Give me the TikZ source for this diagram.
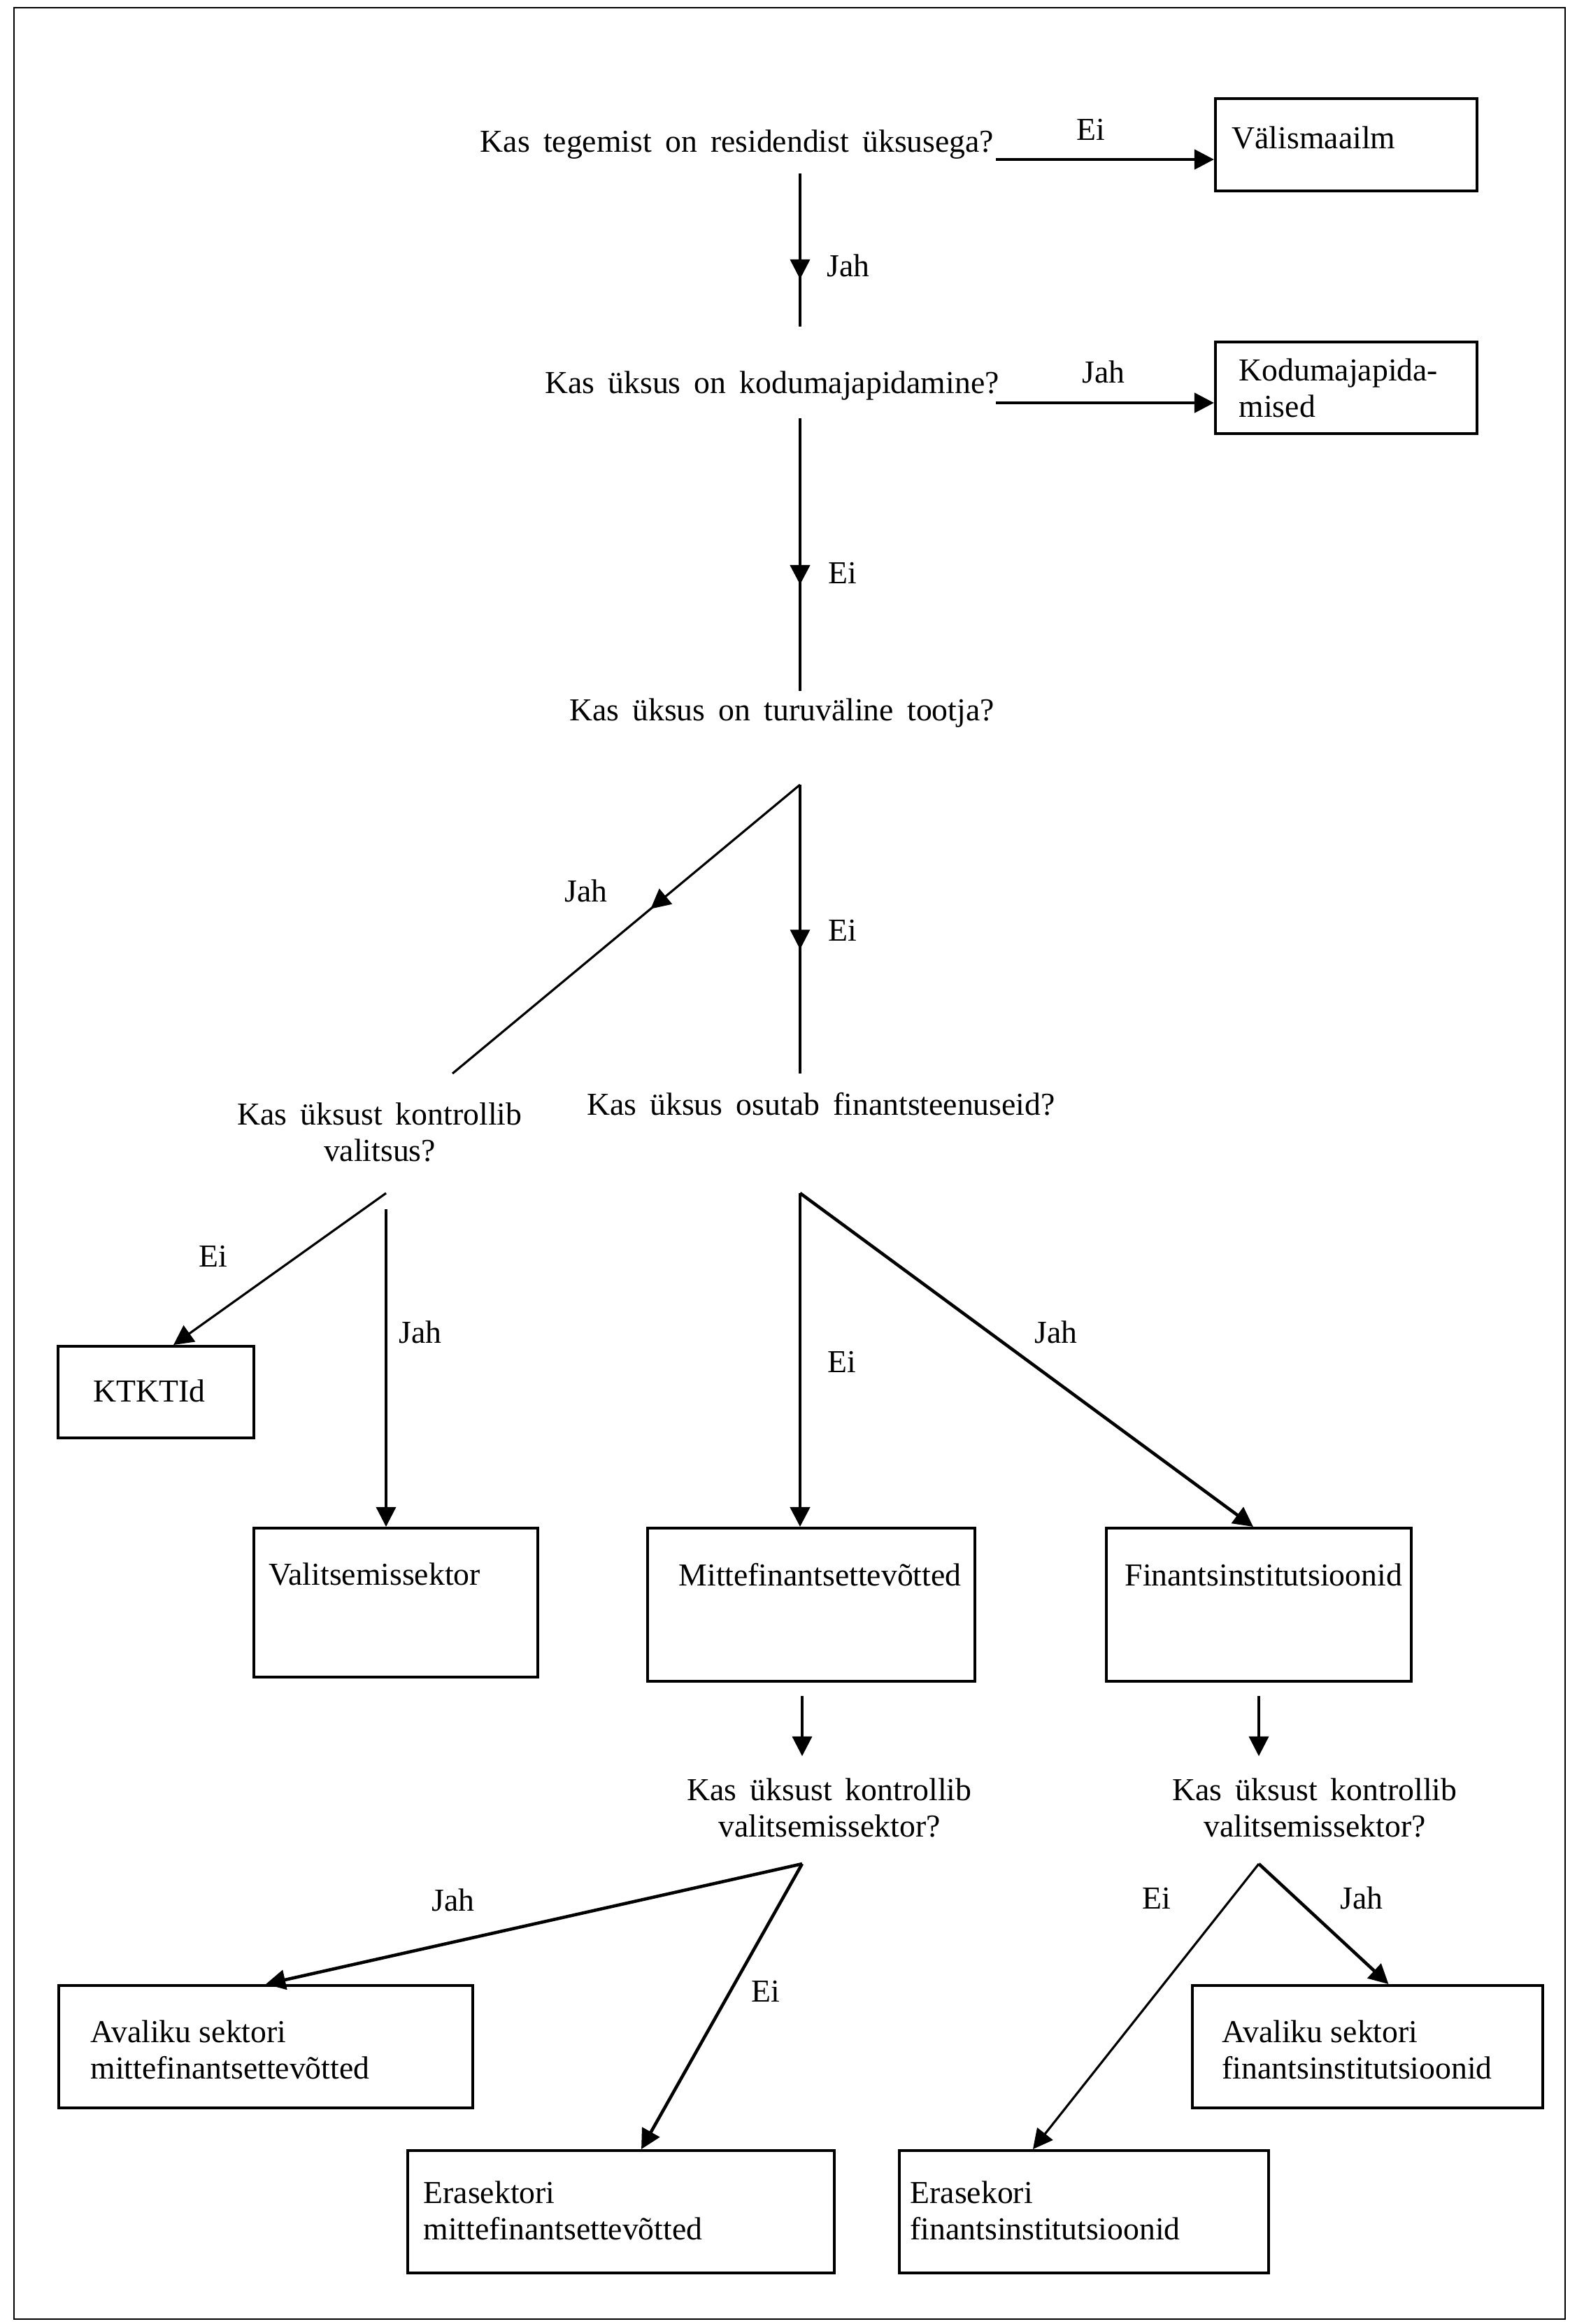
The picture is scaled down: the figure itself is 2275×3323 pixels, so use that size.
\documentclass[tikz,border=0pt]{standalone}
\usepackage{fontspec}
\setmainfont{Liberation Serif}
\usetikzlibrary{arrows.meta,positioning,calc,decorations.markings}
\newcommand\diagfont{\fontsize{13}{14.8}\selectfont}
\newcommand\askfont{\diagfont\spaceskip=0.42em plus 0.1em minus 0.05em\relax}
\tikzset{
  frame/.style={draw, line width=0.8pt},
  box/.style 2 args={draw, line width=1.1pt, minimum width=#1, minimum height=#2, inner sep=0pt},
  boxtext/.style={align=left, inner sep=0pt, font=\diagfont},
  ask/.style={align=center, inner sep=0pt, font=\askfont},
  answer/.style={anchor=base west, inner sep=0pt, font=\diagfont},
  link/.style={line width=0.9pt},
  boldlink/.style={line width=1.3pt},
  tip/.style={-{Triangle[length=8pt, width=8pt]}},
  midtip/.style={postaction={decorate}, decoration={markings,
    mark=at position #1 with {\arrow{Triangle[length=8pt, width=8pt]}}}}
}
\begin{document}
\begin{tikzpicture}[x=0.01cm, y=-0.01cm]
  \useasboundingbox (0,0) rectangle (2275,3323);
  \draw[frame] (20,11) rectangle (2238,3316);

  \node[ask, anchor=base] (q1) at (1054,217) {Kas tegemist on residendist üksusega?};
  \node[ask, anchor=base] (q2) at (1104,562) {Kas üksus on kodumajapidamine?};
  \node[ask, anchor=base] (q3) at (1118,1030) {Kas üksus on turuväline tootja?};
  \node[ask, anchor=north] (q4) at (543,1576) {Kas üksust kontrollib\\valitsus?};
  \node[ask, anchor=base] (q5) at (1174,1594) {Kas üksus osutab finantsteenuseid?};
  \node[ask, anchor=north] (q6) at (1186,2542) {Kas üksust kontrollib\\valitsemissektor?};
  \node[ask, anchor=north] (q7) at (1880,2542) {Kas üksust kontrollib\\valitsemissektor?};

  \node[box={3.74cm}{1.32cm}] (valis) at (1925,207) {};
  \node[box={3.74cm}{1.31cm}] (kodu) at (1925,554.5) {};
  \node[box={2.80cm}{1.31cm}] (ktkt) at (223,1990.5) {};
  \node[box={4.06cm}{2.13cm}] (valits) at (566,2291.5) {};
  \node[box={4.68cm}{2.19cm}] (mitte) at (1160,2294.5) {};
  \node[box={4.36cm}{2.19cm}] (fin) at (1800,2294.5) {};
  \node[box={5.92cm}{1.75cm}] (avmitte) at (380,2926.5) {};
  \node[box={5.01cm}{1.75cm}] (avfin) at (1955.5,2926.5) {};
  \node[box={6.10cm}{1.75cm}] (eramitte) at (888,3162.5) {};
  \node[box={5.28cm}{1.75cm}] (erafin) at (1550,3162.5) {};

  \node[boxtext, below right=0.41cm and 0.25cm of valis.north west] (valis-t) {Välismaailm};
  \node[boxtext, below right=0.25cm and 0.35cm of kodu.north west] (kodu-t) {Kodumajapida-\\mised};
  \node[boxtext, below right=0.49cm and 0.52cm of ktkt.north west] (ktkt-t) {KTKTId};
  \node[boxtext, below right=0.51cm and 0.23cm of valits.north west] (valits-t) {Valitsemissektor};
  \node[boxtext, below right=0.52cm and 0.46cm of mitte.north west] (mitte-t) {Mittefinantsettevõtted};
  \node[boxtext, below right=0.52cm and 0.28cm of fin.north west] (fin-t) {Finantsinstitutsioonid};
  \node[boxtext, below right=0.51cm and 0.47cm of avmitte.north west] (avmitte-t) {Avaliku sektori\\mittefinantsettevõtted};
  \node[boxtext, below right=0.51cm and 0.44cm of avfin.north west] (avfin-t) {Avaliku sektori\\finantsinstitutsioonid};
  \node[boxtext, below right=0.45cm and 0.24cm of eramitte.north west] (eramitte-t) {Erasektori\\mittefinantsettevõtted};
  \node[boxtext, below right=0.45cm and 0.17cm of erafin.north west] (erafin-t) {Erasekori\\finantsinstitutsioonid};

  \coordinate (q1e) at (1424,228);
  \coordinate (q2e) at (1424,576);
  \coordinate (q1s) at (1144,248);
  \coordinate (q2n) at (1144,467);
  \coordinate (q2s) at (1144,598);
  \coordinate (q3n) at (1144,988);
  \coordinate (q3s) at (1144,1122);
  \coordinate (q4n) at (647,1535);
  \coordinate (q5n) at (1144,1535);
  \coordinate (q4s) at (552,1706);
  \coordinate (q4j) at (552,1729);
  \coordinate (q5s) at (1144,1706);
  \coordinate (q6n) at (1147,2511);
  \coordinate (q7n) at (1800,2511);
  \coordinate (q6s) at (1147,2665);
  \coordinate (q7s) at (1800,2665);

  \draw[boldlink, tip] (q1e) -- (q1e -| valis.west);
  \draw[boldlink, tip] (q2e) -- (q2e -| kodu.west);
  \draw[link, midtip=0.69] (q1s) -- (q2n);
  \draw[boldlink, midtip=0.61] (q2s) -- (q3n);
  \draw[link, midtip=0.43] (q3s) -- (q4n);
  \draw[link, midtip=0.57] (q3s) -- (q5n);
  \draw[link, tip] (q4s) -- ([xshift=0.25cm]ktkt.north);
  \draw[link, tip] (q4j) -- (q4j |- valits.north);
  \draw[boldlink, tip] (q5s) -- (q5s |- mitte.north);
  \draw[boldlink, tip] (q5s) -- ([xshift=-0.08cm]fin.north);
  \draw[link, tip] ($(mitte.south -| q6n)+(0,19)$) -- (q6n);
  \draw[link, tip] ($(fin.south -| q7n)+(0,19)$) -- (q7n);
  \draw[boldlink, tip] (q6s) -- (avmitte.north);
  \draw[boldlink, tip] (q6s) -- ([xshift=0.29cm]eramitte.north);
  \draw[link, tip] (q7s) -- ([xshift=-0.73cm]erafin.north);
  \draw[boldlink, tip] (q7s) -- ([xshift=0.3cm]avfin.north);

  \node[answer] (a1) at (1539,200) {Ei};
  \node[answer] (a2) at (1182,395) {Jah};
  \node[answer] (a3) at (1547,547) {Jah};
  \node[answer] (a4) at (1184,834) {Ei};
  \node[answer] (a5) at (807,1289) {Jah};
  \node[answer] (a6) at (1184,1345) {Ei};
  \node[answer] (a7) at (284,1811) {Ei};
  \node[answer] (a8) at (570,1920) {Jah};
  \node[answer] (a9) at (1183,1962) {Ei};
  \node[answer] (a10) at (1479,1920) {Jah};
  \node[answer] (a11) at (617,2732) {Jah};
  \node[answer] (a12) at (1074,2862) {Ei};
  \node[answer] (a13) at (1633,2729) {Ei};
  \node[answer] (a14) at (1916,2729) {Jah};
\end{tikzpicture}
\end{document}
